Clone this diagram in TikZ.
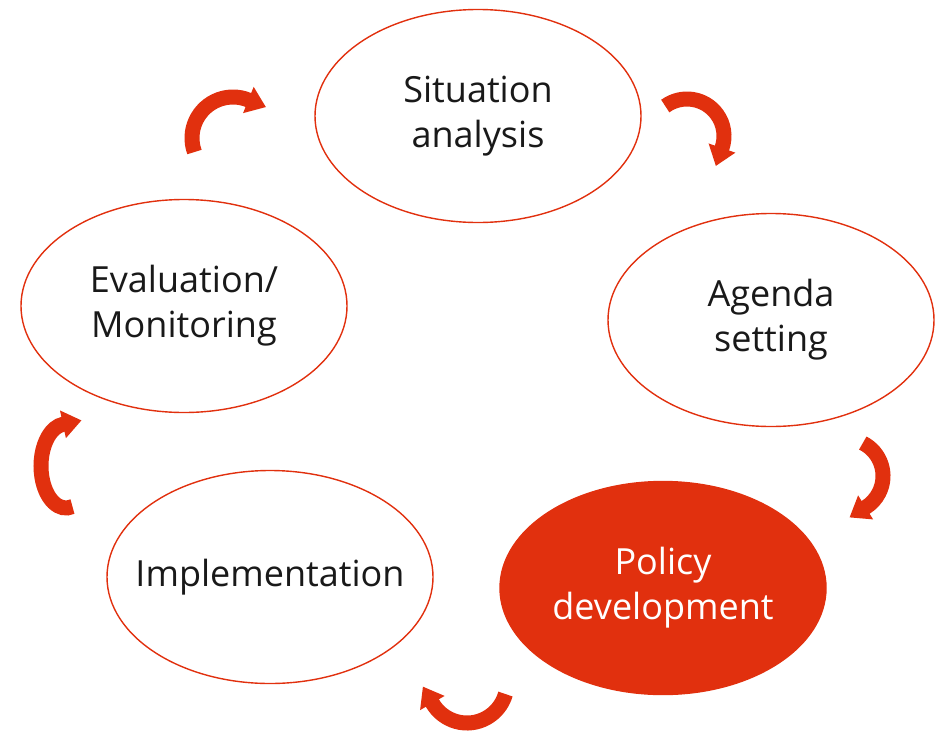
\documentclass[tikz,border=0pt]{standalone}
\usepackage{fontspec}
\setmainfont{Open Sans}
\usetikzlibrary{shapes.geometric,arrows.meta}
\definecolor{cycred}{RGB}{225,48,14}
\definecolor{inkblack}{RGB}{25,25,25}
\tikzset{
  stage/.style={ellipse, draw=cycred, line width=1.4pt, inner sep=0pt,
    minimum width=326pt, minimum height=213pt},
  current/.style={stage, fill=cycred},
  caption/.style={align=center, inner sep=0pt,
    font=\fontsize{36}{45}\selectfont, text=inkblack},
  currentcaption/.style={caption, text=white},
  cyc/.style={draw=cycred, line width=15pt, -{Triangle[length=19pt,width=27pt]}}
}
\begin{document}
\begin{tikzpicture}[x=1pt,y=1pt]
\useasboundingbox (0,0) rectangle (941,-731);

% the five stages of the cycle
\node[stage]   (sit)    at (478,-116) {};
\node[stage]   (agenda) at (771,-320) {};
\node[current] (policy) at (663,-588) {};
\node[stage]   (impl)   at (270,-577) {};
\node[stage]   (eval)   at (184,-306) {};

\node[caption]        (sitText)    at (sit)    {Situation\\analysis};
\node[caption]        (agendaText) at (agenda) {Agenda\\setting};
\node[currentcaption] (policyText) at (policy) {Policy\\development};
\node[caption]        (implText)   at (impl)   {Implementation};
\node[caption]        (evalText)   at (eval)   {Evaluation/\\Monitoring};

% centres of the curved arrows between the stages
\coordinate (arSit)    at (233,-138);
\coordinate (arAgenda) at (687,-136);
\coordinate (arPolicy) at (846,-476);
\coordinate (arImpl)   at (467,-683);
\coordinate (arEval)   at (66,-466);

\draw[cyc] (arSit) ++(200:41) arc[start angle=200, end angle=68, radius=41] -- ++(-22:19);
\draw[cyc] (arAgenda) ++(126:37) arc[start angle=126, end angle=-19, radius=37] -- ++(-109:19);
\draw[cyc] (arPolicy) ++(63:37) arc[start angle=63, end angle=-58, radius=37] -- ++(-148:19);
\draw[cyc] (arImpl) ++(-16:40) arc[start angle=-16, end angle=-150, radius=40] -- ++(120:19);
\draw[cyc] (arEval) ++(285:25 and 42) arc[start angle=285, end angle=97, x radius=25, y radius=42] -- ++(12:19);
\end{tikzpicture}
\end{document}
